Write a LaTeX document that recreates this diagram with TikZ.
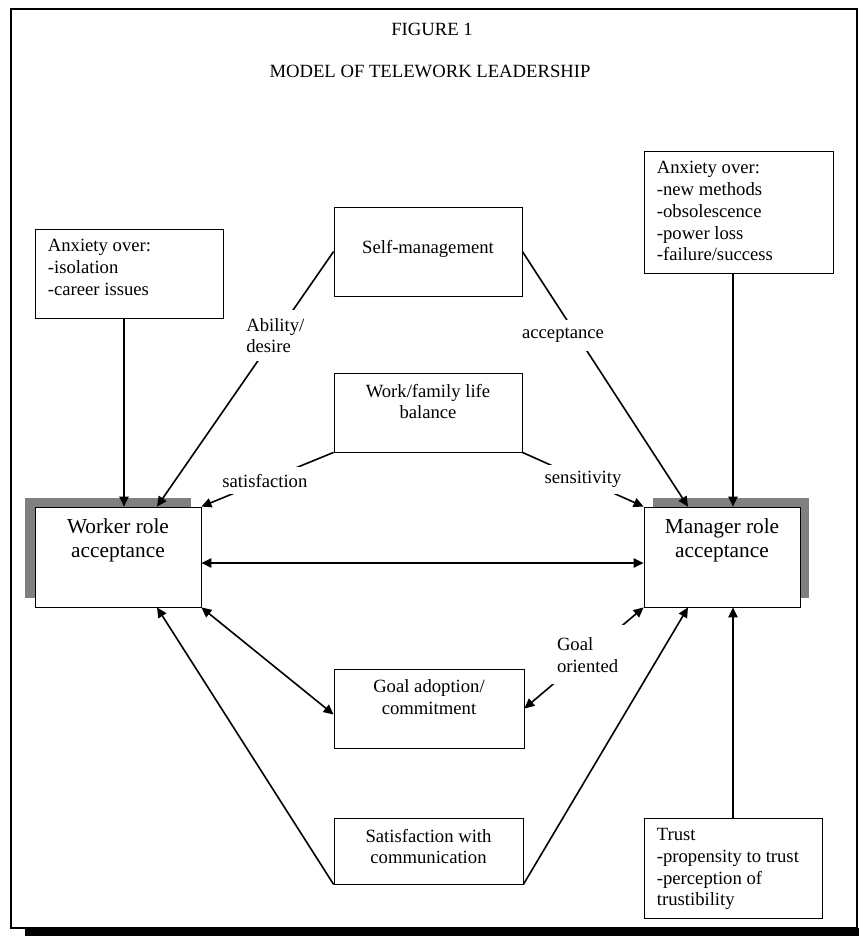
\documentclass[tikz,border=0pt]{standalone}
\usepackage{fontspec}
\setmainfont{Liberation Serif}
\usetikzlibrary{arrows.meta,fit,shadows}
\newcommand\boxfont{\fontsize{14}{16.3}\selectfont}
\newcommand\rolefont{\fontsize{16}{18}\selectfont}
\begin{document}
\begin{tikzpicture}[x=0.75pt,y=-0.75pt,
  box/.style={draw, line width=0.6pt, inner sep=0pt, fill=white},
  rolebox/.style={box, drop shadow={shadow xshift=#1, shadow yshift=6.75pt, opacity=1, fill=black!50}},
  boxtext/.style={anchor=north, align=center, inner sep=0pt, font=\boxfont, yshift=-8.3pt},
  listtext/.style={anchor=north west, align=left, inner sep=0pt, font=\boxfont, xshift=9.75pt, yshift=-8pt},
  roletext/.style={anchor=north, align=center, inner sep=0pt, font=\rolefont, yshift=-8.5pt},
  linelabel/.style={fill=white, align=left, inner sep=6pt, font=\boxfont},
  conn/.style={line width=1.2pt, -{Triangle[length=7.5pt,width=7pt]}},
  twoway/.style={line width=1.2pt, {Triangle[length=7.5pt,width=7pt]}-{Triangle[length=7.5pt,width=7pt]}}]
  \useasboundingbox (0,0) rectangle (859,936);

  %frame
  \fill[black] (25,928) rectangle (859,936);
  \draw[line width=1.5pt] (11,9) rectangle (857,928);
  \node[anchor=base, font=\boxfont] (fig) at (432,35) {FIGURE 1};
  \node[anchor=base, font=\boxfont] (title) at (430,77) {MODEL OF TELEWORK LEADERSHIP};

  %roles
  \node[rolebox=-7.5pt, fit={(35,507) (201,607)}, label={[roletext]north:{Worker role\\acceptance}}] (worker) {};
  \node[rolebox=6.75pt, fit={(644,507) (800,607)}, label={[roletext]north:{Manager role\\acceptance}}] (manager) {};

  %factors
  \node[box, fit={(35,229) (223,318)}, label={[listtext]north west:{Anxiety over:\\-isolation\\-career issues}}] (worryW) {};
  \node[box, fit={(644,151) (833,273)}, label={[listtext]north west:{Anxiety over:\\-new methods\\-obsolescence\\-power loss\\-failure/success}}] (worryM) {};
  \node[box, fit={(644,818) (822,918)}, label={[listtext]north west:{Trust\\-propensity to trust\\-perception of\\trustibility}}] (trust) {};
  \node[box, fit={(334,207) (522,296)}, label={[boxtext, yshift=-16.5pt]north:{Self-management}}] (selfm) {};
  \node[box, fit={(334,373) (522,452)}, label={[boxtext]north:{Work/family life\\balance}}] (family) {};
  \node[box, fit={(334,669) (524,748)}, label={[boxtext]north:{Goal adoption/\\commitment}}] (goal) {};
  \node[box, fit={(334,818) (523,884)}, label={[boxtext]north:{Satisfaction with\\communication}}] (satcom) {};

  %links
  \draw[conn] (worryW.south -| 124,0) -- (worker.north -| 124,0);
  \draw[conn] (worryM.south -| trust.north) -- (manager.north -| trust.north);
  \draw[conn] (selfm.west) -- node[linelabel, pos=0.33] (ability) {Ability/\\desire} (worker.north -| 157,0);
  \draw[conn] (selfm.east) -- node[linelabel, pos=0.33, xshift=-10.5pt] (accept) {acceptance} (manager.north -| 688,0);
  \draw[conn] (family.south west) -- node[linelabel, pos=0.52, inner ysep=5pt] (satis) {satisfaction} (worker.north east);
  \draw[conn] (family.south east) -- node[linelabel, pos=0.5, inner ysep=5pt] (sensi) {sensitivity} (manager.north west);
  \draw[twoway] ([yshift=-4.5pt]worker.east) -- ([yshift=-4.5pt]manager.west);
  \draw[twoway] (worker.south east) -- ([yshift=-4.5pt]goal.west);
  \draw[twoway] (manager.south west) -- node[linelabel, pos=0.47, inner ysep=9pt] (goalor) {Goal\\oriented} (goal.east);
  \draw[conn] (satcom.south west) -- (worker.south -| 157,0);
  \draw[conn] (satcom.south east) -- (manager.south -| 688,0);
  \draw[conn] (trust.north) -- (manager.south -| trust.north);
\end{tikzpicture}
\end{document}
